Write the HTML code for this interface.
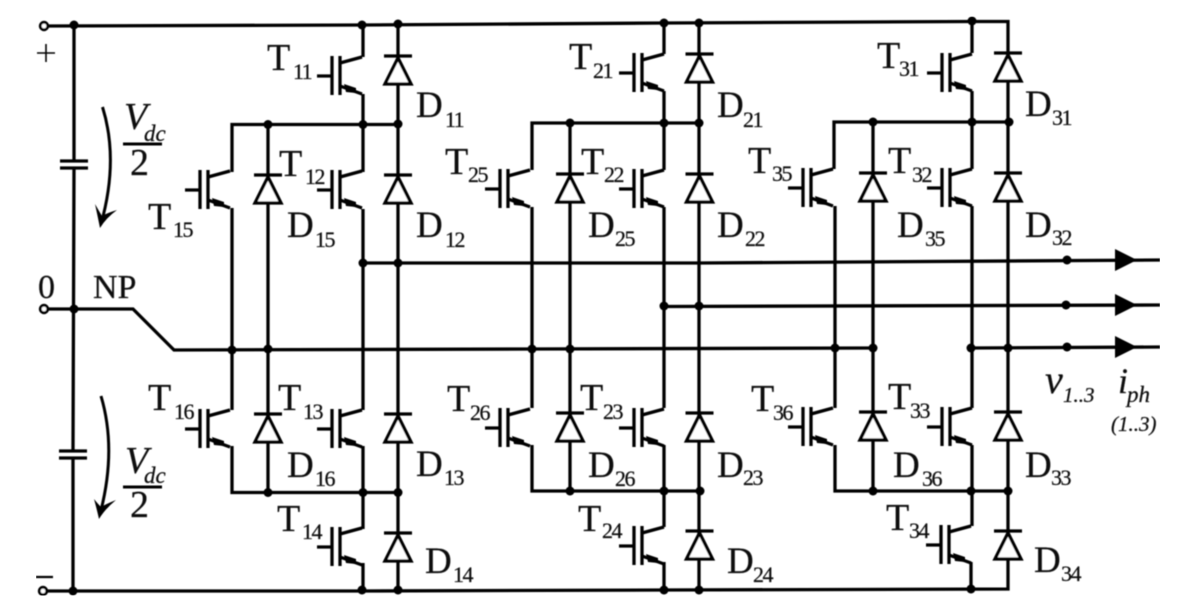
<!DOCTYPE html>
<html>
<head>
<meta charset="utf-8">
<style>
html,body{margin:0;padding:0;background:#fff;width:1177px;height:614px;overflow:hidden}
svg{display:block}
text{font-family:"Liberation Serif",serif;fill:#111;stroke:#111;stroke-width:0.25px}
.T{font-size:38px}
.D{font-size:37px}
.s{font-size:22px;letter-spacing:-1.5px}
.i{font-style:italic}
</style>
</head>
<body>
<svg width="1177" height="614" viewBox="0 0 1177 614" xmlns="http://www.w3.org/2000/svg">
<defs>
<filter id="b" x="0" y="0" width="100%" height="100%"><feGaussianBlur stdDeviation="0.4"/></filter>
<g id="q" fill="none" stroke="#000" stroke-width="3.300">
<path d="M0 0V39M8 0V39M-15 20H0"/>
<path d="M8 7L30 1M8 30L30 38"/>
<path d="M12 28L24 32L24 37L14 36Z" fill="#000" stroke="none"/>
</g>
<g id="d" stroke="#000">
<path d="M0 2L-13 28H13Z" fill="#fff" stroke-width="3.300" stroke-linejoin="miter"/>
<path d="M-14 0H14" stroke-width="3.300" fill="none"/>
</g>
<circle id="o" r="4.500" fill="#000"/>
</defs>
<rect width="1177" height="614" fill="#fff"/>
<g filter="url(#b)">
<g fill="none" stroke="#000" stroke-width="3.300">
<!-- rails -->
<path d="M48 26L362 25L664 23L972 21.500H1008V53"/>
<path d="M47 591H362L664 590L1008 589V531"/>
<path d="M48 309H133L174 350L532 349L873 348"/>
<!-- DC link -->
<path d="M74 25V161M74 168L73 451M73 458V591"/>
<path d="M60 161H88M60 168H88M59 451H87M59 458H87"/>
<!-- outputs -->
<path d="M363 263L700 263L1160 260"/>
<path d="M664 306.500L1160 305"/>
<path d="M971 348L1160 347"/>
<!-- inner buses -->
<path d="M398 124.500H232V172M232 208V410M232 446V492.500H398"/>
<path d="M699 123H532V170M532 207V408M532 445V491H699"/>
<path d="M1008 122H834V169M835 206V408M835 445V491H1008"/>
<!-- leg 1 -->
<path d="M363 25V57M363 94V172M363 209V410M363 446V529M363 563V590"/>
<path d="M398 25V590M268 125V492"/>
<!-- leg 2 -->
<path d="M664 23V54M664 91V170M664 207V408M664 445V527M664 562V590"/>
<path d="M699 23V590M570 123V491"/>
<!-- leg 3 -->
<path d="M972 22V53M972 91V169M972 206V408M972 445V526M971 562V589"/>
<path d="M1008 53V531M873 122V491"/>
</g>
<!-- IGBTs -->
<use href="#q" x="332" y="56"/><use href="#q" x="332" y="170"/><use href="#q" x="200" y="170"/>
<use href="#q" x="200" y="409"/><use href="#q" x="332" y="409"/><use href="#q" x="332" y="527"/>
<use href="#q" x="634" y="53"/><use href="#q" x="634" y="169"/><use href="#q" x="500" y="169"/>
<use href="#q" x="500" y="408"/><use href="#q" x="634" y="408"/><use href="#q" x="634" y="526"/>
<use href="#q" x="942" y="53"/><use href="#q" x="942" y="168"/><use href="#q" x="803" y="168"/>
<use href="#q" x="803" y="407"/><use href="#q" x="942" y="407"/><use href="#q" x="941" y="525"/>
<!-- diodes -->
<use href="#d" x="398" y="56"/><use href="#d" x="398" y="175"/><use href="#d" x="268" y="175"/>
<use href="#d" x="268" y="414"/><use href="#d" x="398" y="414"/><use href="#d" x="398" y="533"/>
<use href="#d" x="699.500" y="54"/><use href="#d" x="699.500" y="174"/><use href="#d" x="570" y="174"/>
<use href="#d" x="570" y="413"/><use href="#d" x="699.500" y="413"/><use href="#d" x="699.500" y="531"/>
<use href="#d" x="1008" y="53"/><use href="#d" x="1008" y="173"/><use href="#d" x="873" y="173"/>
<use href="#d" x="873" y="412"/><use href="#d" x="1008" y="412"/><use href="#d" x="1008" y="531"/>
<!-- terminals -->
<g fill="#fff" stroke="#000" stroke-width="2.800">
<circle cx="44" cy="26" r="3.800"/><circle cx="44" cy="309" r="3.800"/><circle cx="43" cy="591" r="3.800"/>
</g>
<!-- dots -->
<use href="#o" x="74" y="25"/><use href="#o" x="74" y="309"/><use href="#o" x="73" y="591"/>
<use href="#o" x="362" y="25"/><use href="#o" x="398" y="24"/><use href="#o" x="664" y="23"/><use href="#o" x="699" y="23"/><use href="#o" x="972" y="21"/>
<use href="#o" x="268" y="124.500"/><use href="#o" x="363" y="124.500"/><use href="#o" x="398" y="124"/>
<use href="#o" x="570" y="123"/><use href="#o" x="664" y="123"/><use href="#o" x="699" y="123"/>
<use href="#o" x="873" y="122"/><use href="#o" x="972" y="122"/><use href="#o" x="1009" y="122"/>
<use href="#o" x="363" y="263"/><use href="#o" x="398" y="263"/><use href="#o" x="664" y="306"/><use href="#o" x="699" y="306"/>
<use href="#o" x="232" y="350"/><use href="#o" x="268" y="349"/><use href="#o" x="532" y="349"/><use href="#o" x="570" y="349"/><use href="#o" x="835" y="348"/><use href="#o" x="873" y="348"/>
<use href="#o" x="971" y="348"/><use href="#o" x="1008" y="348"/>
<use href="#o" x="1067" y="260"/><use href="#o" x="1066" y="305"/><use href="#o" x="1067" y="347"/>
<use href="#o" x="268" y="492.500"/><use href="#o" x="363" y="492.500"/><use href="#o" x="398" y="492.500"/>
<use href="#o" x="570" y="491"/><use href="#o" x="664" y="491"/><use href="#o" x="700" y="491"/>
<use href="#o" x="873" y="491"/><use href="#o" x="971" y="491"/><use href="#o" x="1008" y="491"/>
<use href="#o" x="362" y="590"/><use href="#o" x="398" y="590"/><use href="#o" x="664" y="590"/><use href="#o" x="699" y="590"/><use href="#o" x="971" y="589"/>
<!-- arrowheads -->
<g fill="#000">
<path d="M1115 249L1137 260L1115 271Z"/><path d="M1115 294L1137 305L1115 316Z"/><path d="M1115 336L1137 347L1115 358Z"/>
</g>
<!-- curved voltage arrows -->
<g fill="none" stroke="#000" stroke-width="3">
<path d="M102.500 107Q119 160 101 224"/>
<path d="M101 396Q117 450 100 514"/>
<path d="M123 144H162M123 487H162"/>
<path d="M37 53H55M46 44V62" stroke-width="1.600"/>
<path d="M36 577H53" stroke-width="2.200"/>
</g>
<path d="M95 204Q98 218 100 228Q106 218 117 210Q107 213 102 216Q99 211 95 204Z" fill="#000"/>
<path d="M94 499Q97 510 99 519Q105 509 116 500Q106 504 101 507Q98 504 94 499Z" fill="#000"/>
<!-- labels -->
<text x="38" y="298" font-size="34">0</text>
<text x="93" y="298" font-size="34">NP</text>
<text x="124" y="129" font-size="38" class="i">V</text><text x="144" y="141" font-size="23" class="i">dc</text><text x="130" y="175" font-size="38">2</text>
<text x="125" y="473" font-size="38" class="i">V</text><text x="144" y="483" font-size="23" class="i">dc</text><text x="130" y="517" font-size="38">2</text>

<text class="T" x="267" y="70">T</text><text class="s" x="293" y="79">11</text>
<text class="D" x="416" y="117">D</text><text class="s" x="445" y="127">11</text>
<text class="T" x="279" y="176">T</text><text class="s" x="305" y="184">12</text>
<text class="T" x="148" y="229">T</text><text class="s" x="173" y="237">15</text>
<text class="D" x="287" y="237">D</text><text class="s" x="315" y="247">15</text>
<text class="D" x="416" y="237">D</text><text class="s" x="445" y="247">12</text>
<text class="T" x="148" y="410">T</text><text class="s" x="174" y="419">16</text>
<text class="T" x="278" y="410">T</text><text class="s" x="303" y="419">13</text>
<text class="D" x="287" y="477">D</text><text class="s" x="315" y="486">16</text>
<text class="D" x="416" y="476">D</text><text class="s" x="444" y="485">13</text>
<text class="T" x="277" y="531">T</text><text class="s" x="302" y="539">14</text>
<text class="D" x="425" y="573">D</text><text class="s" x="453" y="582">14</text>

<text class="T" x="569" y="69">T</text><text class="s" x="593" y="78">21</text>
<text class="D" x="717" y="117">D</text><text class="s" x="743" y="127">21</text>
<text class="T" x="445" y="174">T</text><text class="s" x="468" y="182">25</text>
<text class="T" x="581" y="174">T</text><text class="s" x="604" y="182">22</text>
<text class="D" x="588" y="237">D</text><text class="s" x="615" y="246">25</text>
<text class="D" x="717" y="237">D</text><text class="s" x="745" y="246">22</text>
<text class="T" x="447" y="411">T</text><text class="s" x="470" y="420">26</text>
<text class="T" x="580" y="410">T</text><text class="s" x="603" y="419">23</text>
<text class="D" x="588" y="477">D</text><text class="s" x="615" y="486">26</text>
<text class="D" x="717" y="477">D</text><text class="s" x="743" y="485">23</text>
<text class="T" x="578" y="531">T</text><text class="s" x="602" y="538">24</text>
<text class="D" x="727" y="573">D</text><text class="s" x="753" y="582">24</text>

<text class="T" x="877" y="68">T</text><text class="s" x="899" y="76">31</text>
<text class="D" x="1025" y="116">D</text><text class="s" x="1052" y="125">31</text>
<text class="T" x="748" y="173">T</text><text class="s" x="772" y="181">35</text>
<text class="T" x="888" y="173">T</text><text class="s" x="912" y="182">32</text>
<text class="D" x="897" y="237">D</text><text class="s" x="925" y="246">35</text>
<text class="D" x="1025" y="237">D</text><text class="s" x="1052" y="245">32</text>
<text class="T" x="751" y="411">T</text><text class="s" x="773" y="420">36</text>
<text class="T" x="888" y="409">T</text><text class="s" x="910" y="418">33</text>
<text class="D" x="893" y="477">D</text><text class="s" x="922" y="486">36</text>
<text class="D" x="1025" y="477">D</text><text class="s" x="1051" y="485">33</text>
<text class="T" x="886" y="530">T</text><text class="s" x="909" y="538">34</text>
<text class="D" x="1034" y="572">D</text><text class="s" x="1061" y="581">34</text>

<text x="1045" y="393" font-size="40" class="i">v</text><text x="1063" y="402" font-size="21" class="i">1..3</text>
<text x="1118" y="393" font-size="36" class="i">i</text><text x="1127" y="402" font-size="23" class="i">ph</text>
<text x="1111" y="431" font-size="21" class="i">(1..3)</text>
</g>
</svg>
</body>
</html>
